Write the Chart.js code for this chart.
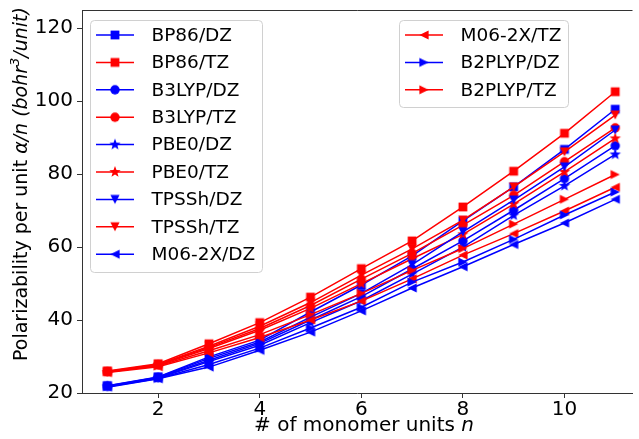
<!DOCTYPE html>
<html>
<head>
<meta charset="utf-8">
<script src="https://cdn.jsdelivr.net/npm/chart.js@4.4.0/dist/chart.umd.min.js"></script>
<style>
html, body { margin: 0; padding: 0; background: #fff; }
#wrap { width: 639px; height: 439px; }
</style>
</head>
<body>
<div id="wrap"><canvas id="chart" width="639" height="439"></canvas></div>
<script>
// monomer units and axis ticks
const nUnits = [1, 2, 3, 4, 5, 6, 7, 8, 9, 10, 11];
const xTicks = [2, 4, 6, 8, 10];
const yTicks = [20, 40, 60, 80, 100, 120];

// polarizability per unit (bohr^3/unit)
const bp86DZ   = [22.0, 24.4, 29.9, 34.5, 42.2, 49.6, 57.6, 67.2, 76.5, 86.8, 97.8];
const bp86TZ   = [26.0, 28.0, 33.5, 39.3, 46.3, 54.1, 61.7, 71.0, 80.8, 91.2, 102.6];
const b3lypDZ  = [21.8, 24.2, 29.0, 33.6, 40.0, 46.4, 54.0, 61.7, 70.1, 78.8, 87.8];
const b3lypTZ  = [25.8, 27.7, 32.5, 37.7, 44.0, 51.2, 58.3, 66.0, 74.2, 83.4, 92.7];
const pbe0DZ   = [21.8, 24.1, 28.6, 33.1, 39.3, 45.3, 52.6, 60.0, 68.7, 76.8, 85.4];
const pbe0TZ   = [25.7, 27.6, 32.2, 37.2, 43.2, 50.0, 56.8, 63.5, 71.8, 80.6, 89.8];
const tpsshDZ  = [21.9, 24.3, 29.5, 34.0, 40.8, 47.3, 55.2, 64.2, 72.9, 82.0, 92.1];
const tpsshTZ  = [25.9, 27.8, 32.8, 38.3, 44.8, 52.3, 59.5, 67.4, 76.5, 86.1, 96.2];
const m062xDZ  = [21.6, 23.9, 27.1, 31.7, 36.7, 42.5, 48.8, 54.6, 60.7, 66.6, 73.1];
const m062xTZ  = [25.6, 27.2, 31.0, 35.2, 40.0, 45.2, 51.3, 57.8, 63.7, 69.9, 76.4];
const b2plypDZ = [21.7, 24.0, 27.8, 32.3, 37.8, 43.5, 50.4, 55.9, 62.1, 68.8, 75.1];
const b2plypTZ = [25.8, 27.4, 31.6, 36.0, 41.5, 47.3, 53.6, 59.6, 66.3, 73.1, 79.9];

const seriesNames = ["BP86/DZ", "BP86/TZ", "B3LYP/DZ", "B3LYP/TZ", "PBE0/DZ", "PBE0/TZ",
  "TPSSh/DZ", "TPSSh/TZ", "M06-2X/DZ", "M06-2X/TZ", "B2PLYP/DZ", "B2PLYP/TZ"];
const seriesValues = [bp86DZ, bp86TZ, b3lypDZ, b3lypTZ, pbe0DZ, pbe0TZ,
  tpsshDZ, tpsshTZ, m062xDZ, m062xTZ, b2plypDZ, b2plypTZ];
const seriesShapes = ["square", "square", "circle", "circle", "star", "star",
  "down", "down", "left", "left", "right", "right"];

const BLUE = "#0000ff";
const RED = "#ff0000";
const FONT = "DejaVu Sans";

// little canvases used as point markers (and in the legend)
function markerCanvas(shape, color) {
  const c = document.createElement("canvas");
  c.width = 16; c.height = 16;
  const g = c.getContext("2d");
  g.fillStyle = color;
  g.translate(8, 8);
  g.beginPath();
  const s = 4.6;
  if (shape === "square") {
    g.rect(-4.4, -4.4, 8.8, 8.8);
  } else if (shape === "circle") {
    g.arc(0, 0, 4.7, 0, Math.PI * 2);
  } else if (shape === "star") {
    for (let i = 0; i < 10; i++) {
      const r = i % 2 ? 2.5 : 6.0;
      const a = -Math.PI / 2 + i * Math.PI / 5;
      g.lineTo(r * Math.cos(a), r * Math.sin(a));
    }
  } else if (shape === "down") {
    g.moveTo(0, s); g.lineTo(-s, -s); g.lineTo(s, -s);
  } else if (shape === "left") {
    g.moveTo(-s, 0); g.lineTo(s, -s); g.lineTo(s, s);
  } else if (shape === "right") {
    g.moveTo(s, 0); g.lineTo(-s, -s); g.lineTo(-s, s);
  }
  g.closePath();
  g.fill();
  return c;
}

const datasets = seriesNames.map((name, i) => {
  const color = i % 2 === 0 ? BLUE : RED;
  return {
    label: name,
    data: nUnits.map((n, k) => ({ x: n, y: seriesValues[i][k] })),
    borderColor: color,
    backgroundColor: color,
    borderWidth: 1.5,
    pointStyle: markerCanvas(seriesShapes[i], color),
    pointRadius: 5,
    tension: 0,
    order: seriesNames.length - i
  };
});

// legend boxes, spines and axis titles
const decorations = {
  id: "decorations",
  afterDraw(chart) {
    const ctx = chart.ctx;
    const area = chart.chartArea;
    ctx.save();

    // top spine
    ctx.strokeStyle = "#333";
    ctx.lineWidth = 1;
    ctx.beginPath();
    ctx.moveTo(area.left, area.top + 0.5);
    ctx.lineTo(area.right, area.top + 0.5);
    ctx.stroke();

    function legendBox(x0, y0, w, h, first, last, textX) {
      ctx.fillStyle = "rgba(255,255,255,0.8)";
      ctx.strokeStyle = "#d0d0d0";
      ctx.lineWidth = 1;
      ctx.beginPath();
      ctx.roundRect(x0 + 0.5, y0 + 0.5, w, h, 4);
      ctx.fill();
      ctx.stroke();
      for (let i = first; i <= last; i++) {
        const y = y0 + 15 + (i - first) * 27.4;
        const ds = datasets[i];
        ctx.strokeStyle = ds.borderColor;
        ctx.lineWidth = 1.5;
        ctx.beginPath();
        ctx.moveTo(x0 + 6, y);
        ctx.lineTo(x0 + 44, y);
        ctx.stroke();
        ctx.drawImage(ds.pointStyle, x0 + 25 - 8, y - 8);
        ctx.fillStyle = "#000";
        ctx.font = "18.5px '" + FONT + "'";
        ctx.textBaseline = "middle";
        ctx.textAlign = "left";
        ctx.fillText(ds.label, textX, y + 1);
      }
    }
    legendBox(90, 20, 172, 252, 0, 8, 151.5);
    legendBox(399, 20, 169, 87, 9, 11, 460.5);

    // segments of text, some italic
    function drawRich(parts, x, y, align) {
      let total = 0;
      parts.forEach(p => {
        ctx.font = (p.italic ? "italic " : "") + p.size + "px '" + FONT + "'";
        p.w = ctx.measureText(p.t).width;
        total += p.w;
      });
      let cx = align === "center" ? x - total / 2 : x;
      parts.forEach(p => {
        ctx.font = (p.italic ? "italic " : "") + p.size + "px '" + FONT + "'";
        ctx.fillText(p.t, cx, y + (p.dy || 0));
        cx += p.w;
      });
    }
    ctx.fillStyle = "#000";
    ctx.textBaseline = "middle";
    ctx.textAlign = "left";

    drawRich([
      { t: "# of monomer units ", size: 20 },
      { t: "n", size: 20, italic: true }
    ], 364, 426, "center");

    ctx.translate(22, 184);
    ctx.rotate(-Math.PI / 2);
    drawRich([
      { t: "Polarizability per unit ", size: 19 },
      { t: "\u03b1/n", size: 19, italic: true },
      { t: " (bohr", size: 19, italic: true },
      { t: "3", size: 13, italic: true, dy: -6 },
      { t: "/unit)", size: 19, italic: true }
    ], 0, 0, "center");
    ctx.restore();
  }
};

new Chart(document.getElementById("chart"), {
  type: "line",
  data: { datasets: datasets },
  options: {
    responsive: false,
    animation: false,
    layout: { padding: { top: 10, right: 0, left: 0, bottom: 0 } },
    plugins: {
      legend: { display: false },
      tooltip: { enabled: false }
    },
    scales: {
      x: {
        type: "linear",
        min: 0.5,
        max: 11.34,
        afterBuildTicks: s => { s.ticks = xTicks.map(v => ({ value: v })); },
        afterFit: s => {
          s.height = 46;
          s.paddingLeft = 0; s.paddingRight = 0;
        },
        grid: { drawOnChartArea: false, drawTicks: true, tickLength: 5, color: "#333" },
        border: { color: "#333", width: 1 },
        ticks: { color: "#000", font: { family: FONT, size: 20 }, padding: 0, maxRotation: 0 }
      },
      y: {
        type: "linear",
        min: 20,
        max: 125,
        afterBuildTicks: s => { s.ticks = yTicks.map(v => ({ value: v })); },
        afterFit: s => {
          s.width = 82;
          s.paddingTop = 0; s.paddingBottom = 0;
        },
        grid: { drawOnChartArea: false, drawTicks: true, tickLength: 5, color: "#333" },
        border: { color: "#333", width: 1 },
        ticks: { color: "#000", font: { family: FONT, size: 20 }, padding: 4 }
      }
    }
  },
  plugins: [decorations]
});
</script>
</body>
</html>
